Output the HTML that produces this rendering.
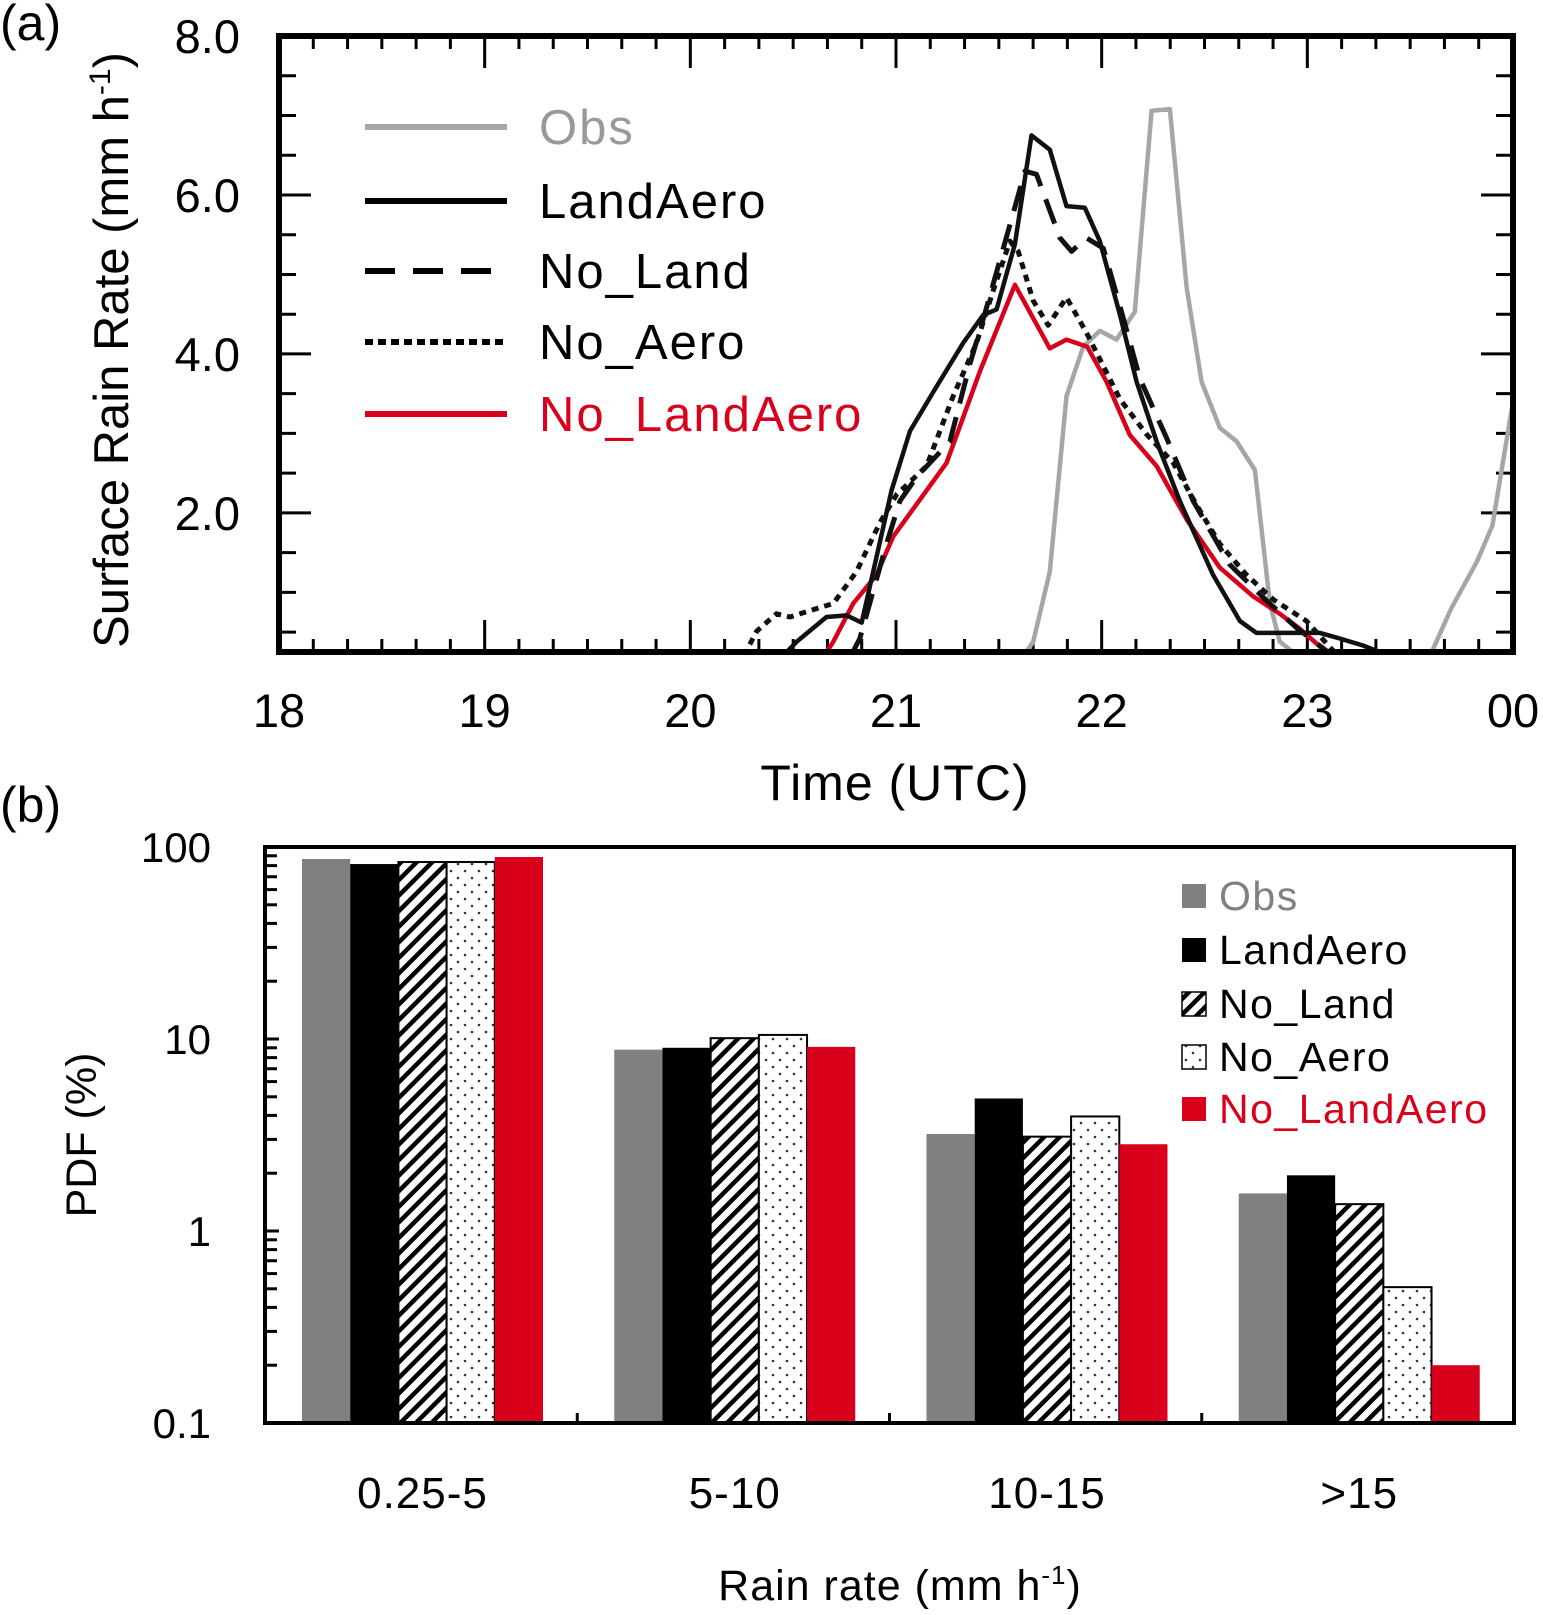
<!DOCTYPE html>
<html><head><meta charset="utf-8"><style>
html,body{margin:0;padding:0;background:#fff;}
svg{display:block;font-family:"Liberation Sans",sans-serif;}
</style></head><body>
<svg id="fig" width="1543" height="1615" viewBox="0 0 1543 1615" xmlns="http://www.w3.org/2000/svg">
<defs>
<clipPath id="clipA"><rect x="279" y="36" width="1234" height="616"/></clipPath>
<pattern id="hatch" patternUnits="userSpaceOnUse" width="11" height="11" patternTransform="rotate(45)">
<rect width="11" height="11" fill="#fff"/><rect x="0" y="0" width="4.5" height="11" fill="#000"/></pattern>
<pattern id="dots" patternUnits="userSpaceOnUse" width="14" height="14">
<rect width="14" height="14" fill="#fff"/><circle cx="3" cy="3" r="1.3" fill="#333"/><circle cx="10" cy="10" r="1.3" fill="#333"/></pattern>
</defs>
<g id="panelA"></g>
<g id="panelB"></g>
</svg>
<script>
// ---------- Panel (a) data ----------
const obsT = [21.62,21.667,21.748,21.829,21.91,21.991,22.072,22.161,22.243,22.332,22.413,22.486,22.575,22.656,22.745,22.818,22.866,22.915,22.95,23.0,23.3,23.55,23.61,23.7,23.825,23.9,24.0];
const obsV = [0.2,0.38,1.26,3.47,4.09,4.29,4.18,4.53,7.06,7.08,4.84,3.65,3.07,2.9,2.54,0.86,0.38,0.28,0.1,0,0,0.1,0.28,0.8,1.39,1.84,3.4];
const landT = [20.45,20.517,20.662,20.76,20.833,20.978,21.068,21.181,21.327,21.424,21.489,21.578,21.659,21.748,21.829,21.918,21.991,22.089,22.17,22.267,22.38,22.542,22.672,22.753,23.061,23.158,23.272,23.4];
const landV = [0.2,0.38,0.69,0.71,0.62,2.28,3.03,3.52,4.14,4.49,4.56,5.38,6.75,6.57,5.86,5.84,5.42,4.49,3.65,2.9,2.15,1.22,0.64,0.49,0.49,0.42,0.33,0.2];
const noLandT = [20.78,20.824,20.954,21.019,21.1,21.262,21.359,21.44,21.57,21.627,21.683,21.797,21.854,21.926,22.008,22.105,22.186,22.316,22.445,22.623,22.8,22.95,23.1,23.15];
const noLandV = [0.2,0.42,1.61,2.15,2.45,2.9,3.87,4.58,5.77,6.3,6.26,5.46,5.29,5.46,5.33,4.45,3.69,2.94,2.15,1.35,0.9,0.55,0.25,0.15];
const noAeroT = [20.26,20.322,20.419,20.484,20.581,20.695,20.808,20.922,21.003,21.149,21.278,21.392,21.473,21.554,21.594,21.667,21.74,21.829,21.926,22.089,22.218,22.348,22.461,22.575,22.704,22.834,22.996,23.12,23.16];
const noAeroV = [0.2,0.51,0.73,0.69,0.77,0.86,1.26,1.88,2.23,2.59,3.47,4.14,4.8,5.42,5.29,4.67,4.36,4.71,4.27,3.43,2.99,2.63,2.1,1.61,1.22,0.91,0.64,0.28,0.2];
const noLAT = [20.65,20.695,20.792,20.905,20.986,21.246,21.408,21.578,21.748,21.829,21.93,22.024,22.137,22.267,22.413,22.575,22.737,22.866,22.96,23.07,23.1];
const noLAV = [0.2,0.38,0.86,1.22,1.7,2.63,3.78,4.87,4.07,4.18,4.09,3.65,2.98,2.59,1.92,1.31,0.95,0.73,0.55,0.3,0.2];
const xTickLabels = ["18","19","20","21","22","23","00"];
const yTickLabels = ["2.0","4.0","6.0","8.0"];
const yTickValues = [2,4,6,8];

// ---------- Panel (b) data ----------
const binLabels = ["0.25-5","5-10","10-15",">15"];
const obsPdf = [86.6,8.8,3.2,1.57];
const landAeroPdf = [81.5,9.0,4.9,1.95];
const noLandPdf = [83.5,10.1,3.1,1.38];
const noAeroPdf = [83.5,10.5,3.95,0.51];
const noLandAeroPdf = [88.7,9.1,2.83,0.2];
const logTickLabels = ["0.1","1","10","100"];
const logTickValues = [0.1,1,10,100];

const NS="http://www.w3.org/2000/svg";
function mk(tag, attrs, parent){const e=document.createElementNS(NS,tag);for(const k in attrs)e.setAttribute(k,attrs[k]);parent.appendChild(e);return e;}

// ---------- Panel (a) ----------
const A=document.getElementById('panelA');
const ax={x0:279,x1:1513,y0:652,y1:36,tmin:18,tmax:24,vmin:0.25,vmax:8};
function X(t){return ax.x0+(t-ax.tmin)/(ax.tmax-ax.tmin)*(ax.x1-ax.x0);}
function Y(v){return ax.y0-(v-ax.vmin)/(ax.vmax-ax.vmin)*(ax.y0-ax.y1);}

const ticksA=mk('g',{},A);


for(let i=0;i<=36;i++){
  const t=18+i/6, x=X(t), len=(i%6===0)?32:13;
  mk('line',{x1:x,x2:x,y1:ax.y0,y2:ax.y0-len,stroke:'#000','stroke-width':3},ticksA);
  mk('line',{x1:x,x2:x,y1:ax.y1,y2:ax.y1+len,stroke:'#000','stroke-width':3},ticksA);
}
for(let v=0.5;v<=8.001;v+=0.5){
  const y=Y(v), len=(Math.abs(v%2)<1e-6)?32:17;
  mk('line',{x1:ax.x0,x2:ax.x0+len,y1:y,y2:y,stroke:'#000','stroke-width':3},ticksA);
  mk('line',{x1:ax.x1,x2:ax.x1-len,y1:y,y2:y,stroke:'#000','stroke-width':3},ticksA);
}
xTickLabels.forEach((s,i)=>{
  const e=mk('text',{x:X(18+i),y:727,'font-size':47,'text-anchor':'middle',fill:'#000'},A);
  e.textContent=s;
  
  
});
yTickLabels.forEach((s,i)=>{
  const e=mk('text',{x:240,y:Y(yTickValues[i])+17,'font-size':47,'text-anchor':'end',fill:'#000'},A);
  e.textContent=s;
  
  
});

function series(T,V,attrs,name){
  let d='';T.forEach((t,i)=>{d+=(i?'L':'M')+X(t).toFixed(1)+','+Y(V[i]).toFixed(1);});
  const p=mk('path',Object.assign({d:d,fill:'none','stroke-linejoin':'round','clip-path':'url(#clipA)'},attrs),A);
  
  
}
series(obsT,obsV,{stroke:'#a6a6a6','stroke-width':4.5},'obs-line');
series(noLAT,noLAV,{stroke:'#d9001b','stroke-width':4.5},'no-landaero-line');
series(noAeroT,noAeroV,{stroke:'#111','stroke-width':5,'stroke-dasharray':'7 6'},'no-aero-line');
series(noLandT,noLandV,{stroke:'#111','stroke-width':5,'stroke-dasharray':'26 14'},'no-land-line');
series(landT,landV,{stroke:'#111','stroke-width':4.5},'landaero-line');

const boxA=mk('rect',{x:ax.x0,y:ax.y1,width:ax.x1-ax.x0,height:ax.y0-ax.y1,fill:'none',stroke:'#000','stroke-width':6},A);



const legA=mk('g',{},A);


const legItemsA=[["Obs",'#a6a6a6',null,'#999',127],["LandAero",'#000',null,'#000',201],["No_Land",'#000','30 18','#000',271],["No_Aero",'#000','8 5','#000',342],["No_LandAero",'#d9001b',null,'#d9001b',414]];
legItemsA.forEach(it=>{
  const a={x1:365,x2:507,y1:it[4],y2:it[4],stroke:it[1],'stroke-width':6};
  if(it[2])a['stroke-dasharray']=it[2];
  const l=mk('line',a,legA);
  
  
  const t=mk('text',{x:539,y:it[4]+17,'font-size':49,'letter-spacing':2,fill:it[3]},legA);
  t.textContent=it[0];
  
  
});

const tA=mk('text',{x:895,y:800,'font-size':50,'text-anchor':'middle','letter-spacing':1},A);tA.textContent='Time (UTC)';


const yA=mk('text',{x:0,y:0,'font-size':49,'text-anchor':'middle',transform:'translate(128,350) rotate(-90)'},A);
yA.innerHTML='Surface Rain Rate (mm h<tspan dy="-18" font-size="30">-1</tspan><tspan dy="18">)</tspan>';


const pa=mk('text',{x:0,y:40,'font-size':50},A);pa.textContent='(a)';



// ---------- Panel (b) ----------
const B=document.getElementById('panelB');
const bx={x0:265,x1:1514,y0:1423,y1:847};
function LY(v){return bx.y0-(Math.log10(v)+1)/3*(bx.y0-bx.y1);}
const gw=(bx.x1-bx.x0)/binLabels.length, bw=48.2, goff=37;
const seriesB=[[obsPdf,'#808080','none','bar-obs'],[landAeroPdf,'#000','none','bar-landaero'],[noLandPdf,'url(#hatch)','#000','bar-no-land'],[noAeroPdf,'url(#dots)','#000','bar-no-aero'],[noLandAeroPdf,'#d9001b','none','bar-no-landaero']];
binLabels.forEach((lab,g)=>{
  seriesB.forEach((s,k)=>{
    const x=bx.x0+g*gw+goff+k*bw, y=LY(s[0][g]);
    const r=mk('rect',{x:x,y:y,width:bw,height:bx.y0-y,fill:s[1],stroke:s[2],'stroke-width':2},B);
    
    
  });
  const t=mk('text',{x:bx.x0+g*gw+goff+2.5*bw,y:1508,'font-size':44,'text-anchor':'middle','letter-spacing':1},B);
  t.textContent=lab;
  
  
  if(g>0){mk('line',{x1:bx.x0+g*gw,x2:bx.x0+g*gw,y1:bx.y0,y2:bx.y0-10,stroke:'#000','stroke-width':3},B);}
});
for(let d=-1;d<2;d++){
  for(let m=1;m<=10;m++){
    const v=m*Math.pow(10,d), y=LY(v), len=(m===1||m===10)?14:12;
    mk('line',{x1:bx.x0,x2:bx.x0+len,y1:y,y2:y,stroke:'#000','stroke-width':3},B);
  }
}
logTickLabels.forEach((s,i)=>{
  const t=mk('text',{x:211,y:LY(logTickValues[i])+15,'font-size':42,'text-anchor':'end'},B);
  t.textContent=s;
  
  
});
const boxB=mk('rect',{x:bx.x0,y:bx.y1,width:bx.x1-bx.x0,height:bx.y0-bx.y1,fill:'none',stroke:'#000','stroke-width':4},B);


const legB=mk('g',{},B);


const legItemsB=[["Obs",'#808080','none','#808080',896],["LandAero",'#000','none','#000',950],["No_Land",'url(#hatch)','#000','#000',1004],["No_Aero",'url(#dots)','#000','#000',1057],["No_LandAero",'#d9001b','none','#d9001b',1109]];
legItemsB.forEach(it=>{
  const r=mk('rect',{x:1182,y:it[4]-12,width:24,height:24,fill:it[1],stroke:it[2],'stroke-width':1.5},legB);
  
  
  const t=mk('text',{x:1219,y:it[4]+14,'font-size':41,'letter-spacing':1.5,fill:it[3]},legB);
  t.textContent=it[0];
  
  
});
const xb=mk('text',{x:900,y:1600,'font-size':43,'text-anchor':'middle','letter-spacing':1},B);
xb.innerHTML='Rain rate (mm h<tspan dy="-16" font-size="26">-1</tspan><tspan dy="16">)</tspan>';


const yb=mk('text',{x:0,y:0,'font-size':43,'text-anchor':'middle',transform:'translate(96,1135) rotate(-90)'},B);
yb.textContent='PDF (%)';


const pb=mk('text',{x:0,y:822,'font-size':50},B);pb.textContent='(b)';


</script>
</body></html>
